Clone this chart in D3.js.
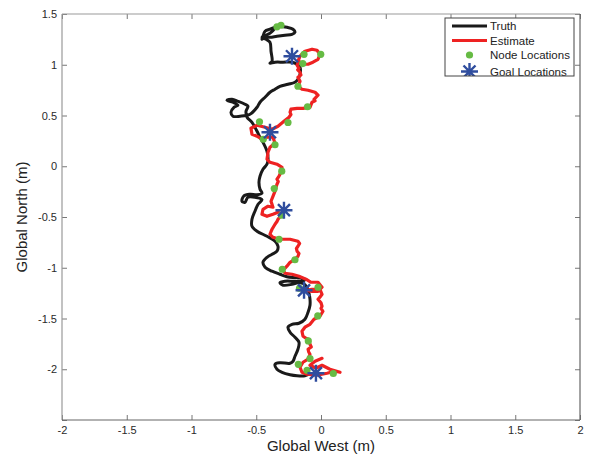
<!DOCTYPE html>
<html>
<head>
<meta charset="utf-8">
<script src="https://d3js.org/d3.v7.min.js"></script>
<style>
  body { margin: 0; background: #fff; }
  text { font-family: "Liberation Sans", Arial, Helvetica, sans-serif; }
</style>
</head>
<body>
<svg width="592" height="455"></svg>
<script>
// ground truth path (m)
var truthX = [-0.332,-0.263,-0.216,-0.201,-0.224,-0.278,-0.340,-0.394,-0.432,-0.456,
  -0.448,-0.432,-0.394,-0.355,-0.386,-0.425,-0.456,-0.425,-0.394,-0.386,
  -0.378,-0.394,-0.355,-0.293,-0.224,-0.185,-0.162,-0.162,-0.178,-0.201,
  -0.255,-0.317,-0.355,-0.394,-0.432,-0.471,-0.494,-0.548,-0.625,-0.680,
  -0.695,-0.672,-0.641,-0.680,-0.726,-0.687,-0.641,-0.587,-0.564,-0.579,
  -0.571,-0.533,-0.494,-0.471,-0.448,-0.417,-0.409,-0.417,-0.448,-0.471,
  -0.479,-0.471,-0.456,-0.494,-0.548,-0.595,-0.610,-0.587,-0.564,-0.510,
  -0.456,-0.486,-0.510,-0.533,-0.533,-0.494,-0.417,-0.355,-0.332,-0.340,
  -0.378,-0.417,-0.448,-0.432,-0.378,-0.317,-0.263,-0.185,-0.124,-0.147,
  -0.216,-0.278,-0.317,-0.293,-0.224,-0.178,-0.139,-0.108,-0.093,-0.085,
  -0.085,-0.100,-0.124,-0.170,-0.224,-0.255,-0.239,-0.201,-0.170,-0.178,
  -0.201,-0.216,-0.239,-0.317,-0.355,-0.340,-0.301,-0.239,-0.185,-0.124,-0.093];
var truthY = [1.379,1.369,1.350,1.320,1.300,1.291,1.281,1.271,1.271,1.251,
  1.281,1.330,1.350,1.369,1.320,1.291,1.271,1.251,1.222,1.133,
  1.034,1.015,1.025,1.025,1.025,1.005,0.975,0.906,0.857,0.828,
  0.808,0.788,0.759,0.729,0.680,0.631,0.581,0.512,0.493,0.493,
  0.532,0.581,0.601,0.631,0.650,0.660,0.640,0.611,0.591,0.542,
  0.483,0.433,0.345,0.286,0.236,0.148,0.069,0.020,-0.030,-0.099,
  -0.158,-0.227,-0.266,-0.281,-0.276,-0.291,-0.345,-0.355,-0.305,-0.305,
  -0.330,-0.374,-0.443,-0.522,-0.591,-0.640,-0.690,-0.739,-0.788,-0.837,
  -0.867,-0.897,-0.946,-0.995,-1.034,-1.064,-1.089,-1.099,-1.113,-1.133,
  -1.133,-1.133,-1.148,-1.172,-1.163,-1.148,-1.153,-1.192,-1.251,-1.310,
  -1.369,-1.438,-1.507,-1.547,-1.557,-1.586,-1.635,-1.685,-1.734,-1.803,
  -1.872,-1.921,-1.941,-1.936,-1.951,-2.000,-2.030,-2.054,-2.064,-2.064,-2.049];

// estimated path (m)
var estX = [-0.178,-0.162,-0.124,-0.069,-0.031,-0.008,-0.023,-0.062,-0.100,-0.139,
  -0.170,-0.185,-0.170,-0.180,-0.162,-0.155,-0.178,-0.170,-0.162,-0.170,
  -0.178,-0.147,-0.100,-0.046,-0.023,-0.054,-0.046,-0.069,-0.085,-0.139,
  -0.185,-0.232,-0.239,-0.232,-0.247,-0.286,-0.332,-0.378,-0.432,-0.494,
  -0.541,-0.533,-0.494,-0.456,-0.417,-0.371,-0.355,-0.394,-0.409,-0.417,
  -0.394,-0.340,-0.301,-0.317,-0.325,-0.340,-0.330,-0.340,-0.348,-0.355,
  -0.371,-0.386,-0.371,-0.409,-0.448,-0.456,-0.417,-0.371,-0.332,-0.301,
  -0.332,-0.340,-0.355,-0.378,-0.385,-0.394,-0.371,-0.317,-0.239,-0.178,
  -0.165,-0.178,-0.190,-0.185,-0.170,-0.178,-0.201,-0.239,-0.263,-0.293,
  -0.278,-0.224,-0.170,-0.116,-0.077,-0.023,0.008,-0.023,-0.069,-0.116,
  -0.069,-0.008,0.008,-0.005,-0.023,0.000,0.008,0.000,0.015,-0.008,
  -0.054,-0.085,-0.124,-0.147,-0.139,-0.120,-0.100,-0.085,-0.075,-0.100,
  -0.095,-0.085,-0.100,-0.139,-0.162,-0.147,-0.108,-0.031,0.046,0.108,0.147,
  0.069,0.008,-0.039,-0.085,-0.046,0.008];
var estY = [1.034,1.084,1.133,1.153,1.143,1.103,1.054,1.025,1.005,1.005,
  1.034,0.995,0.965,0.950,0.926,0.900,0.877,0.857,0.837,0.812,
  0.788,0.759,0.749,0.729,0.700,0.660,0.645,0.631,0.581,0.571,
  0.571,0.562,0.532,0.510,0.483,0.443,0.394,0.365,0.384,0.404,
  0.374,0.315,0.296,0.266,0.286,0.286,0.227,0.187,0.138,0.069,
  0.039,0.020,-0.010,-0.079,-0.100,-0.128,-0.150,-0.177,-0.210,-0.246,
  -0.296,-0.345,-0.404,-0.394,-0.424,-0.473,-0.493,-0.473,-0.453,-0.473,
  -0.522,-0.545,-0.571,-0.621,-0.640,-0.670,-0.700,-0.719,-0.719,-0.739,
  -0.760,-0.788,-0.810,-0.837,-0.860,-0.887,-0.916,-0.946,-0.985,-1.025,
  -1.054,-1.064,-1.084,-1.113,-1.143,-1.143,-1.192,-1.232,-1.232,-1.222,
  -1.212,-1.212,-1.261,-1.285,-1.310,-1.345,-1.379,-1.400,-1.429,-1.478,
  -1.507,-1.557,-1.586,-1.626,-1.675,-1.690,-1.704,-1.754,-1.780,-1.803,
  -1.830,-1.852,-1.901,-1.931,-1.980,-2.030,-2.049,-2.059,-2.039,-2.020,-2.030,
  -2.000,-1.961,-1.990,-1.961,-1.921,-1.892];

// node locations
var nodeX = [-0.340,-0.309,-0.131,-0.002,-0.141,-0.178,-0.104,-0.255,-0.475,-0.446,
  -0.355,-0.303,-0.361,-0.305,-0.324,-0.201,-0.299,-0.166,-0.023,-0.025,
  -0.098,-0.085,-0.175,-0.108,0.095];
var nodeY = [1.374,1.389,1.103,1.103,1.012,0.788,0.586,0.431,0.438,0.266,
  0.212,-0.049,-0.220,-0.483,-0.719,-0.921,-1.015,-1.202,-1.192,-1.475,
  -1.721,-1.895,-1.951,-2.010,-2.042];

// goal locations
var goalX = [-0.224,-0.394,-0.286,-0.131,-0.039];
var goalY = [1.084,0.335,-0.433,-1.222,-2.039];

var xTicks = [-2,-1.5,-1,-0.5,0,0.5,1,1.5,2];
var yTicks = [-2.5,-2,-1.5,-1,-0.5,0,0.5,1,1.5];
var legendLabels = ["Truth","Estimate","Node Locations","Goal Locations"];

var svg = d3.select("svg"),
    pLeft = 62, pRight = 580, pTop = 14, pBottom = 420;

var x = d3.scaleLinear().domain([-2, 2]).range([pLeft, pRight]),
    y = d3.scaleLinear().domain([-2.5, 1.5]).range([pBottom, pTop]);

var fmt = function(d) { return String(d); };

// axes, ticks pointing inward like matlab
svg.append("g").attr("transform", "translate(0," + pBottom + ")")
  .call(d3.axisBottom(x).tickValues(xTicks).tickFormat(fmt).tickSizeInner(-5).tickSizeOuter(0).tickPadding(6));
svg.append("g").attr("transform", "translate(0," + pTop + ")")
  .call(d3.axisTop(x).tickValues(xTicks).tickFormat("").tickSizeInner(-5).tickSizeOuter(0));
// the bottom y label is hidden in the original (it sits on the x labels)
svg.append("g").attr("transform", "translate(" + pLeft + ",0)")
  .call(d3.axisLeft(y).tickValues(yTicks).tickFormat(function(d) { return d == -2.5 ? "" : String(d); })
    .tickSizeInner(-5).tickSizeOuter(0).tickPadding(5));
svg.append("g").attr("transform", "translate(" + pRight + ",0)")
  .call(d3.axisRight(y).tickValues(yTicks).tickFormat("").tickSizeInner(-5).tickSizeOuter(0));

svg.selectAll(".domain").remove();
svg.selectAll(".tick line").attr("stroke", "#777");
svg.selectAll(".tick text").attr("fill", "#2a2a2a").style("font-size", "11px");

// box
svg.append("line").attr("x1", pLeft).attr("x2", pRight).attr("y1", pTop).attr("y2", pTop).attr("stroke", "#999").attr("stroke-width", 1.2);
svg.append("line").attr("x1", pLeft).attr("x2", pLeft).attr("y1", pTop).attr("y2", pBottom).attr("stroke", "#999").attr("stroke-width", 1.2);
svg.append("line").attr("x1", pLeft).attr("x2", pRight).attr("y1", pBottom).attr("y2", pBottom).attr("stroke", "#666").attr("stroke-width", 1.2);
svg.append("line").attr("x1", pRight).attr("x2", pRight).attr("y1", pTop).attr("y2", pBottom).attr("stroke", "#666").attr("stroke-width", 1.2);

// axis labels
svg.append("text")
  .attr("x", (pLeft + pRight) / 2).attr("y", 451)
  .attr("text-anchor", "middle").style("font-size", "15px").attr("fill", "#222")
  .text("Global West (m)");
svg.append("text")
  .attr("transform", "translate(27," + ((pTop + pBottom) / 2) + ") rotate(-90)")
  .attr("text-anchor", "middle").style("font-size", "15px").attr("fill", "#222")
  .text("Global North (m)");

svg.append("clipPath").attr("id", "plotclip").append("rect")
  .attr("x", pLeft).attr("y", pTop).attr("width", pRight - pLeft).attr("height", pBottom - pTop);
var g = svg.append("g").attr("clip-path", "url(#plotclip)");

var truth = truthX.map(function(d, i) { return [d, truthY[i]]; });
var est = estX.map(function(d, i) { return [d, estY[i]]; });

var smooth = d3.line().x(function(d) { return x(d[0]); }).y(function(d) { return y(d[1]); })
  .curve(d3.curveCatmullRom.alpha(0.5));
var rough = d3.line().x(function(d) { return x(d[0]); }).y(function(d) { return y(d[1]); });

g.append("path").datum(truth).attr("d", smooth)
  .attr("fill", "none").attr("stroke", "#1a1a1a").attr("stroke-width", 3)
  .attr("stroke-linejoin", "round").attr("stroke-linecap", "round");

g.append("path").datum(est).attr("d", rough)
  .attr("fill", "none").attr("stroke", "#ee2222").attr("stroke-width", 3.2)
  .attr("stroke-linejoin", "round").attr("stroke-linecap", "round");

g.selectAll(".node").data(nodeX).enter().append("circle")
  .attr("class", "node")
  .attr("cx", function(d) { return x(d); })
  .attr("cy", function(d, i) { return y(nodeY[i]); })
  .attr("r", 3.6).attr("fill", "#66bb44");

var star = "M-8.5,0H8.5M0,-8.5V8.5M-6,-6L6,6M-6,6L6,-6";
g.selectAll(".goal").data(goalX).enter().append("path")
  .attr("class", "goal")
  .attr("transform", function(d, i) { return "translate(" + x(d) + "," + y(goalY[i]) + ")"; })
  .attr("d", star).attr("fill", "none").attr("stroke", "#2f4d9e").attr("stroke-width", 2.4);

// legend (bottom row is cut by the box, like the original)
var lx = 445, ly = 18, lw = 129, lh = 58;
svg.append("clipPath").attr("id", "legclip").append("rect")
  .attr("x", lx).attr("y", ly).attr("width", lw).attr("height", lh);
svg.append("rect").attr("x", lx).attr("y", ly).attr("width", lw).attr("height", lh)
  .attr("fill", "#fff");
var lg = svg.append("g").attr("clip-path", "url(#legclip)");
var rowY = [26, 40.5, 55, 71.5];
lg.append("line").attr("x1", 452).attr("x2", 487).attr("y1", rowY[0]).attr("y2", rowY[0])
  .attr("stroke", "#1a1a1a").attr("stroke-width", 3);
lg.append("line").attr("x1", 452).attr("x2", 487).attr("y1", rowY[1]).attr("y2", rowY[1])
  .attr("stroke", "#ee2222").attr("stroke-width", 3);
lg.append("circle").attr("cx", 469.5).attr("cy", rowY[2]).attr("r", 3.6).attr("fill", "#66bb44");
lg.append("path").attr("transform", "translate(469.5," + rowY[3] + ")").attr("d", star)
  .attr("fill", "none").attr("stroke", "#2f4d9e").attr("stroke-width", 2.4);
lg.selectAll(".ltext").data(legendLabels).enter().append("text")
  .attr("class", "ltext")
  .attr("x", 490).attr("y", function(d, i) { return rowY[i]; })
  .attr("dy", "0.36em").style("font-size", "11.5px").attr("fill", "#222")
  .text(function(d) { return d; });
svg.append("rect").attr("x", lx).attr("y", ly).attr("width", lw).attr("height", lh)
  .attr("fill", "none").attr("stroke", "#444").attr("stroke-width", 1);
</script>
</body>
</html>
